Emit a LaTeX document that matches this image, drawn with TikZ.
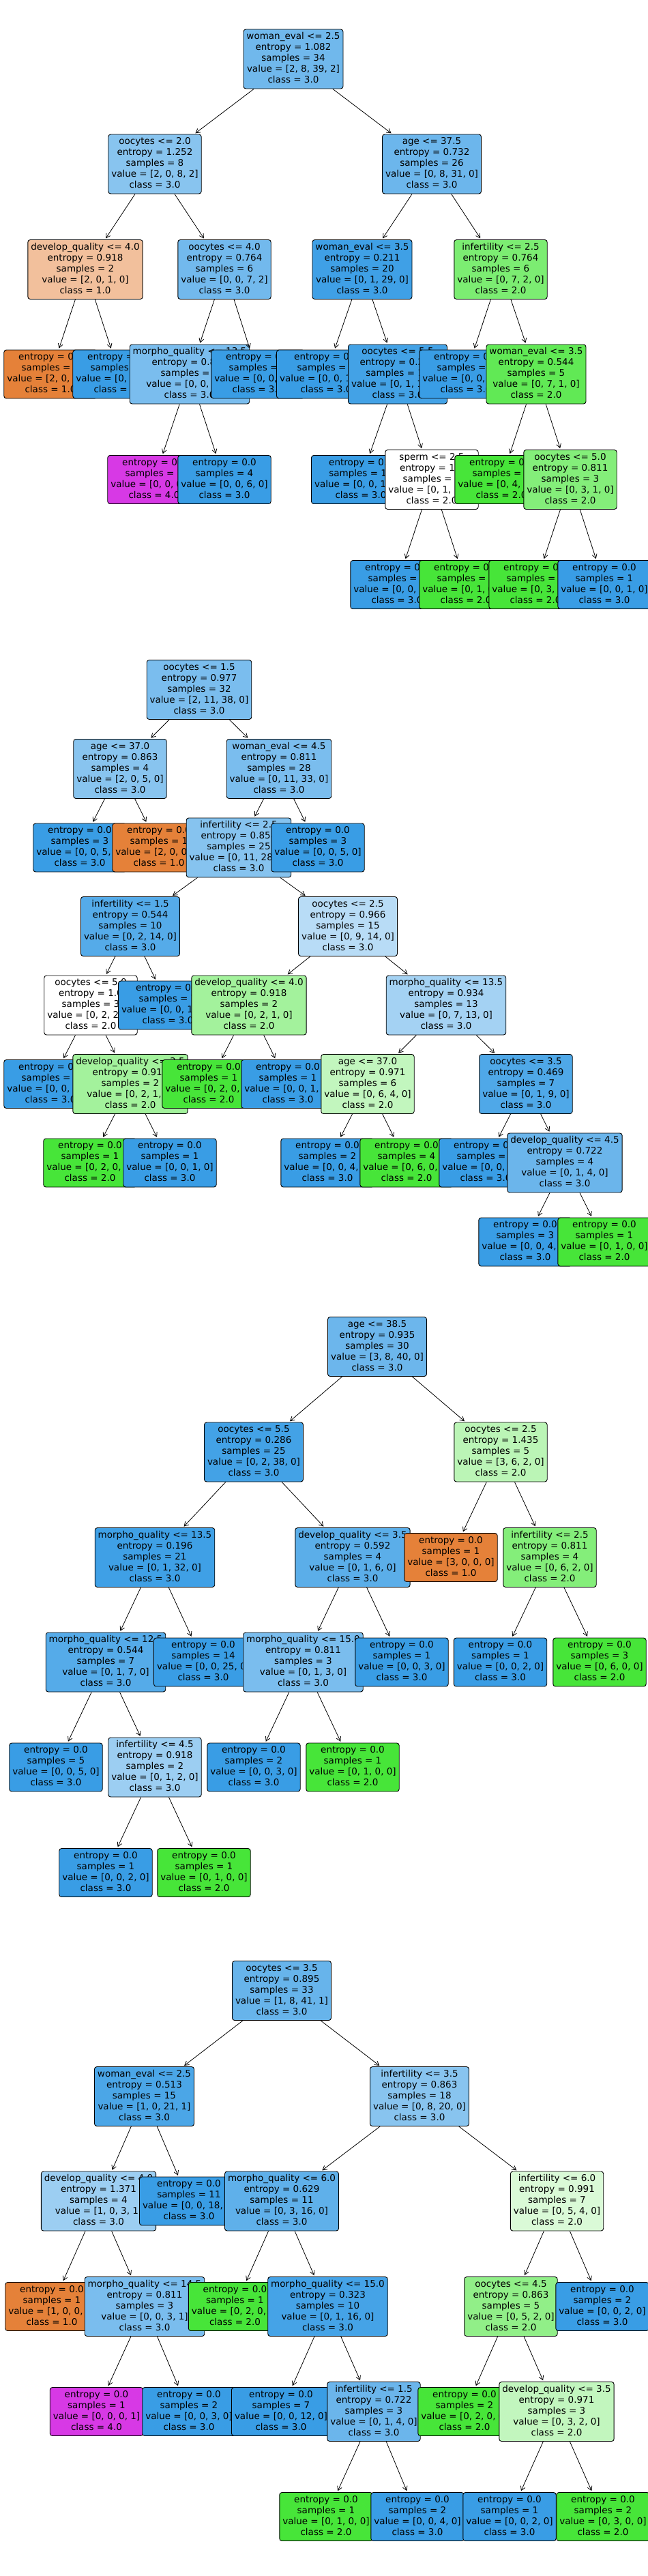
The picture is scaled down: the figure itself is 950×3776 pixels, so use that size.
\documentclass[tikz,border=0pt]{standalone}
\usepackage{fontspec}
\setmainfont{DejaVu Sans}
\usetikzlibrary{arrows.meta}
\definecolor{cO}{RGB}{229,129,57}
\definecolor{cG}{RGB}{71,229,57}
\definecolor{cB}{RGB}{57,157,229}
\definecolor{cM}{RGB}{215,57,229}
\tikzset{
  tn/.style={draw=black, line width=0.9pt, rounded corners=3.5pt, align=center,
    inner xsep=4.5pt, inner ysep=3.5pt, font=\fontsize{13.5pt}{16pt}\selectfont},
  ed/.style={-{Straight Barb[length=6pt,width=7pt]}, line width=0.8pt, shorten >=2pt}
}
\newcommand\TreeIn[9]{\node[tn,fill=#4] (#1) at (#2,#3) {\strut #5\\\strut entropy = #6\\\strut samples = #7\\\strut value = [#8]\\\strut class = #9};}
\newcommand\TreeLf[7]{\node[tn,fill=#4] (#1) at (#2,#3) {\strut entropy = 0.0\\\strut samples = #5\\\strut value = [#6]\\\strut class = #7};}
\newcommand\TreeEd[2]{\draw[ed] (#1) -- (#2);}
\begin{document}
\begin{tikzpicture}[x=1pt,y=-1pt]
\useasboundingbox[fill=white] (0,0) rectangle (950,3776);
% ---------------- Tree 1
\TreeIn{a1}{430}{86.5}{cB!72!white}{woman\_eval <= 2.5}{1.082}{34}{2, 8, 39, 2}{3.0}
\TreeIn{a2}{227}{240.5}{cB!60!white}{oocytes <= 2.0}{1.252}{8}{2, 0, 8, 2}{3.0}\TreeEd{a1}{a2}
\TreeIn{a3}{125}{395}{cO!50!white}{develop\_quality <= 4.0}{0.918}{2}{2, 0, 1, 0}{1.0}\TreeEd{a2}{a3}
\TreeLf{a4}{74}{548.5}{cO}{1}{2, 0, 0, 0}{1.0}\TreeEd{a3}{a4}
\TreeLf{a5}{175}{548.5}{cB}{1}{0, 0, 1, 0}{3.0}\TreeEd{a3}{a5}
\TreeIn{a6}{329}{395}{cB!71!white}{oocytes <= 4.0}{0.764}{6}{0, 0, 7, 2}{3.0}\TreeEd{a2}{a6}
\TreeIn{a7}{278}{548.5}{cB!67!white}{morpho\_quality <= 13.5}{0.811}{5}{0, 0, 6, 2}{3.0}\TreeEd{a6}{a7}
\TreeLf{a8}{226}{703}{cM}{1}{0, 0, 0, 2}{4.0}\TreeEd{a7}{a8}
\TreeLf{a9}{329}{703}{cB}{4}{0, 0, 6, 0}{3.0}\TreeEd{a7}{a9}
\TreeLf{a10}{378}{548.5}{cB}{1}{0, 0, 1, 0}{3.0}\TreeEd{a6}{a10}
\TreeIn{a11}{633}{240.5}{cB!74!white}{age <= 37.5}{0.732}{26}{0, 8, 31, 0}{3.0}\TreeEd{a1}{a11}
\TreeIn{a12}{531}{395}{cB!97!white}{woman\_eval <= 3.5}{0.211}{20}{0, 1, 29, 0}{3.0}\TreeEd{a11}{a12}
\TreeLf{a13}{478}{548.5}{cB}{8}{0, 0, 10, 0}{3.0}\TreeEd{a12}{a13}
\TreeIn{a14}{583}{548.5}{cB!95!white}{oocytes <= 5.5}{0.286}{12}{0, 1, 19, 0}{3.0}\TreeEd{a12}{a14}
\TreeLf{a15}{529}{703}{cB}{10}{0, 0, 18, 0}{3.0}\TreeEd{a14}{a15}
\TreeIn{a16}{633}{703}{white}{sperm <= 2.5}{1.0}{2}{0, 1, 1, 0}{2.0}\TreeEd{a14}{a16}
\TreeLf{a17}{582}{857}{cB}{1}{0, 0, 1, 0}{3.0}\TreeEd{a16}{a17}
\TreeLf{a18}{683}{857}{cG}{1}{0, 1, 0, 0}{2.0}\TreeEd{a16}{a18}
\TreeIn{a19}{734}{395}{cG!71!white}{infertility <= 2.5}{0.764}{6}{0, 7, 2, 0}{2.0}\TreeEd{a11}{a19}
\TreeLf{a20}{683}{548.5}{cB}{1}{0, 0, 1, 0}{3.0}\TreeEd{a19}{a20}
\TreeIn{a21}{786}{548.5}{cG!86!white}{woman\_eval <= 3.5}{0.544}{5}{0, 7, 1, 0}{2.0}\TreeEd{a19}{a21}
\TreeLf{a22}{735}{703}{cG}{2}{0, 4, 0, 0}{2.0}\TreeEd{a21}{a22}
\TreeIn{a23}{836}{703}{cG!67!white}{oocytes <= 5.0}{0.811}{3}{0, 3, 1, 0}{2.0}\TreeEd{a21}{a23}
\TreeLf{a24}{785}{857}{cG}{2}{0, 3, 0, 0}{2.0}\TreeEd{a23}{a24}
\TreeLf{a25}{886}{857}{cB}{1}{0, 0, 1, 0}{3.0}\TreeEd{a23}{a25}
% ---------------- Tree 2
\TreeIn{b1}{292}{1011}{cB!67!white}{oocytes <= 1.5}{0.977}{32}{2, 11, 38, 0}{3.0}
\TreeIn{b2}{176}{1127}{cB!60!white}{age <= 37.0}{0.863}{4}{2, 0, 5, 0}{3.0}\TreeEd{b1}{b2}
\TreeLf{b3}{117}{1242.5}{cB}{3}{0, 0, 5, 0}{3.0}\TreeEd{b2}{b3}
\TreeLf{b4}{233}{1242.5}{cO}{1}{2, 0, 0, 0}{1.0}\TreeEd{b2}{b4}
\TreeIn{b5}{409}{1127}{cB!67!white}{woman\_eval <= 4.5}{0.811}{28}{0, 11, 33, 0}{3.0}\TreeEd{b1}{b5}
\TreeIn{b6}{350}{1242.5}{cB!61!white}{infertility <= 2.5}{0.858}{25}{0, 11, 28, 0}{3.0}\TreeEd{b5}{b6}
\TreeIn{b7}{191}{1358}{cB!86!white}{infertility <= 1.5}{0.544}{10}{0, 2, 14, 0}{3.0}\TreeEd{b6}{b7}
\TreeIn{b8}{133}{1473.5}{white}{oocytes <= 5.0}{1.0}{3}{0, 2, 2, 0}{2.0}\TreeEd{b7}{b8}
\TreeLf{b9}{74}{1589}{cB}{1}{0, 0, 1, 0}{3.0}\TreeEd{b8}{b9}
\TreeIn{b10}{191}{1589}{cG!50!white}{develop\_quality <= 3.5}{0.918}{2}{0, 2, 1, 0}{2.0}\TreeEd{b8}{b10}
\TreeLf{b11}{132}{1704.5}{cG}{1}{0, 2, 0, 0}{2.0}\TreeEd{b10}{b11}
\TreeLf{b12}{249}{1704.5}{cB}{1}{0, 0, 1, 0}{3.0}\TreeEd{b10}{b12}
\TreeLf{b13}{246}{1473.5}{cB}{7}{0, 0, 12, 0}{3.0}\TreeEd{b7}{b13}
\TreeIn{b14}{510}{1358}{cB!36!white}{oocytes <= 2.5}{0.966}{15}{0, 9, 14, 0}{3.0}\TreeEd{b6}{b14}
\TreeIn{b15}{365}{1473.5}{cG!50!white}{develop\_quality <= 4.0}{0.918}{2}{0, 2, 1, 0}{2.0}\TreeEd{b14}{b15}
\TreeLf{b16}{306}{1589}{cG}{1}{0, 2, 0, 0}{2.0}\TreeEd{b15}{b16}
\TreeLf{b17}{422}{1589}{cB}{1}{0, 0, 1, 0}{3.0}\TreeEd{b15}{b17}
\TreeIn{b18}{654}{1473.5}{cB!46!white}{morpho\_quality <= 13.5}{0.934}{13}{0, 7, 13, 0}{3.0}\TreeEd{b14}{b18}
\TreeIn{b19}{539}{1589}{cG!33!white}{age <= 37.0}{0.971}{6}{0, 6, 4, 0}{2.0}\TreeEd{b18}{b19}
\TreeLf{b20}{480}{1704.5}{cB}{2}{0, 0, 4, 0}{3.0}\TreeEd{b19}{b20}
\TreeLf{b21}{596}{1704.5}{cG}{4}{0, 6, 0, 0}{2.0}\TreeEd{b19}{b21}
\TreeIn{b22}{771}{1589}{cB!89!white}{oocytes <= 3.5}{0.469}{7}{0, 1, 9, 0}{3.0}\TreeEd{b18}{b22}
\TreeLf{b23}{712}{1704.5}{cB}{3}{0, 0, 5, 0}{3.0}\TreeEd{b22}{b23}
\TreeIn{b24}{828}{1704.5}{cB!75!white}{develop\_quality <= 4.5}{0.722}{4}{0, 1, 4, 0}{3.0}\TreeEd{b22}{b24}
\TreeLf{b25}{770}{1820.5}{cB}{3}{0, 0, 4, 0}{3.0}\TreeEd{b24}{b25}
\TreeLf{b26}{886}{1820.5}{cG}{1}{0, 1, 0, 0}{2.0}\TreeEd{b24}{b26}
\TreeLf{b27}{466}{1242.5}{cB}{3}{0, 0, 5, 0}{3.0}\TreeEd{b5}{b27}
% ---------------- Tree 3
\TreeIn{c1}{553}{1974}{cB!74!white}{age <= 38.5}{0.935}{30}{3, 8, 40, 0}{3.0}
\TreeIn{c2}{372}{2128.5}{cB!95!white}{oocytes <= 5.5}{0.286}{25}{0, 2, 38, 0}{3.0}\TreeEd{c1}{c2}
\TreeIn{c3}{227}{2283}{cB!97!white}{morpho\_quality <= 13.5}{0.196}{21}{0, 1, 32, 0}{3.0}\TreeEd{c2}{c3}
\TreeIn{c4}{155}{2436.5}{cB!86!white}{morpho\_quality <= 12.5}{0.544}{7}{0, 1, 7, 0}{3.0}\TreeEd{c3}{c4}
\TreeLf{c5}{82}{2590.5}{cB}{5}{0, 0, 5, 0}{3.0}\TreeEd{c4}{c5}
\TreeIn{c6}{227}{2590.5}{cB!50!white}{infertility <= 4.5}{0.918}{2}{0, 1, 2, 0}{3.0}\TreeEd{c4}{c6}
\TreeLf{c7}{155}{2745}{cB}{1}{0, 0, 2, 0}{3.0}\TreeEd{c6}{c7}
\TreeLf{c8}{299}{2745}{cG}{1}{0, 1, 0, 0}{2.0}\TreeEd{c6}{c8}
\TreeLf{c9}{298}{2436.5}{cB}{14}{0, 0, 25, 0}{3.0}\TreeEd{c3}{c9}
\TreeIn{c10}{517}{2283}{cB!83!white}{develop\_quality <= 3.5}{0.592}{4}{0, 1, 6, 0}{3.0}\TreeEd{c2}{c10}
\TreeIn{c11}{444.5}{2436.5}{cB!67!white}{morpho\_quality <= 15.0}{0.811}{3}{0, 1, 3, 0}{3.0}\TreeEd{c10}{c11}
\TreeLf{c12}{372}{2590.5}{cB}{2}{0, 0, 3, 0}{3.0}\TreeEd{c11}{c12}
\TreeLf{c13}{517}{2590.5}{cG}{1}{0, 1, 0, 0}{2.0}\TreeEd{c11}{c13}
\TreeLf{c14}{589}{2436.5}{cB}{1}{0, 0, 3, 0}{3.0}\TreeEd{c10}{c14}
\TreeIn{c15}{734}{2128.5}{cG!37!white}{oocytes <= 2.5}{1.435}{5}{3, 6, 2, 0}{2.0}\TreeEd{c1}{c15}
\TreeLf{c16}{661}{2283}{cO}{1}{3, 0, 0, 0}{1.0}\TreeEd{c15}{c16}
\TreeIn{c17}{806}{2283}{cG!67!white}{infertility <= 2.5}{0.811}{4}{0, 6, 2, 0}{2.0}\TreeEd{c15}{c17}
\TreeLf{c18}{733.5}{2436.5}{cB}{1}{0, 0, 2, 0}{3.0}\TreeEd{c17}{c18}
\TreeLf{c19}{879}{2436.5}{cG}{3}{0, 6, 0, 0}{2.0}\TreeEd{c17}{c19}
% ---------------- Tree 4
\TreeIn{d1}{413}{2918}{cB!77!white}{oocytes <= 3.5}{0.895}{33}{1, 8, 41, 1}{3.0}
\TreeIn{d2}{211.5}{3073}{cB!91!white}{woman\_eval <= 2.5}{0.513}{15}{1, 0, 21, 1}{3.0}\TreeEd{d1}{d2}
\TreeIn{d3}{144.5}{3226.5}{cB!50!white}{develop\_quality <= 4.0}{1.371}{4}{1, 0, 3, 1}{3.0}\TreeEd{d2}{d3}
\TreeLf{d4}{76}{3381}{cO}{1}{1, 0, 0, 0}{1.0}\TreeEd{d3}{d4}
\TreeIn{d5}{212}{3381}{cB!67!white}{morpho\_quality <= 14.5}{0.811}{3}{0, 0, 3, 1}{3.0}\TreeEd{d3}{d5}
\TreeLf{d6}{141.5}{3535}{cM}{1}{0, 0, 0, 1}{4.0}\TreeEd{d5}{d6}
\TreeLf{d7}{277}{3535}{cB}{2}{0, 0, 3, 0}{3.0}\TreeEd{d5}{d7}
\TreeLf{d8}{277}{3226.5}{cB}{11}{0, 0, 18, 0}{3.0}\TreeEd{d2}{d8}
\TreeIn{d9}{615}{3073}{cB!60!white}{infertility <= 3.5}{0.863}{18}{0, 8, 20, 0}{3.0}\TreeEd{d1}{d9}
\TreeIn{d10}{413}{3226.5}{cB!81!white}{morpho\_quality <= 6.0}{0.629}{11}{0, 3, 16, 0}{3.0}\TreeEd{d9}{d10}
\TreeLf{d11}{344.5}{3381}{cG}{1}{0, 2, 0, 0}{2.0}\TreeEd{d10}{d11}
\TreeIn{d12}{480.5}{3381}{cB!94!white}{morpho\_quality <= 15.0}{0.323}{10}{0, 1, 16, 0}{3.0}\TreeEd{d10}{d12}
\TreeLf{d13}{412}{3535}{cB}{7}{0, 0, 12, 0}{3.0}\TreeEd{d12}{d13}
\TreeIn{d14}{548}{3535}{cB!75!white}{infertility <= 1.5}{0.722}{3}{0, 1, 4, 0}{3.0}\TreeEd{d12}{d14}
\TreeLf{d15}{478}{3689}{cG}{1}{0, 1, 0, 0}{2.0}\TreeEd{d14}{d15}
\TreeLf{d16}{612}{3689}{cB}{2}{0, 0, 4, 0}{3.0}\TreeEd{d14}{d16}
\TreeIn{d17}{816.5}{3226.5}{cG!20!white}{infertility <= 6.0}{0.991}{7}{0, 5, 4, 0}{2.0}\TreeEd{d9}{d17}
\TreeIn{d18}{749}{3381}{cG!60!white}{oocytes <= 4.5}{0.863}{5}{0, 5, 2, 0}{2.0}\TreeEd{d17}{d18}
\TreeLf{d19}{681}{3535}{cG}{2}{0, 2, 0, 0}{2.0}\TreeEd{d18}{d19}
\TreeIn{d20}{816}{3535}{cG!33!white}{develop\_quality <= 3.5}{0.971}{3}{0, 3, 2, 0}{2.0}\TreeEd{d18}{d20}
\TreeLf{d21}{747}{3689}{cB}{1}{0, 0, 2, 0}{3.0}\TreeEd{d20}{d21}
\TreeLf{d22}{884}{3689}{cG}{2}{0, 3, 0, 0}{2.0}\TreeEd{d20}{d22}
\TreeLf{d23}{883}{3381}{cB}{2}{0, 0, 2, 0}{3.0}\TreeEd{d17}{d23}
\end{tikzpicture}
\end{document}
